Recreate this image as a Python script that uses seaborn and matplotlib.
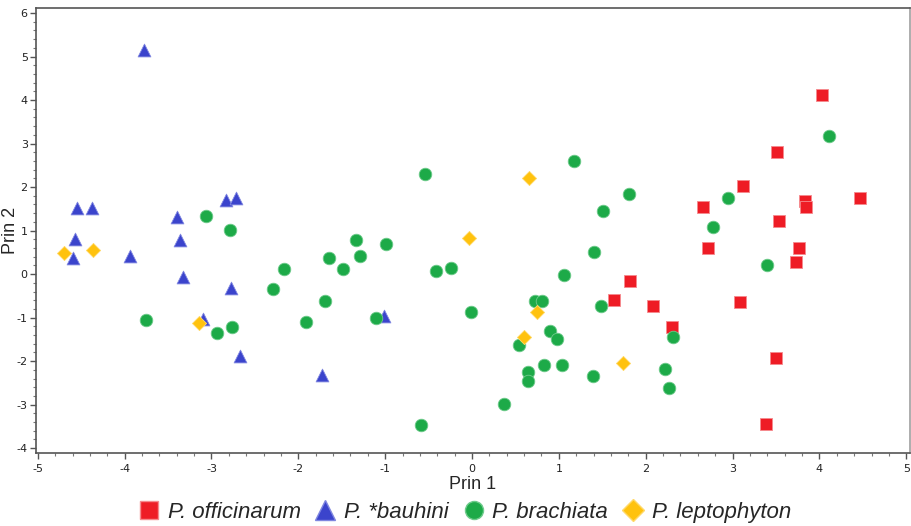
import numpy as np
import pandas as pd
import matplotlib.pyplot as plt
import seaborn as sns
from matplotlib.ticker import MultipleLocator
from matplotlib.lines import Line2D

# Principal component scores
officinarum_x = [4.03, 3.51, 3.12, 2.66, 3.83, 3.85, 4.47, 3.54, 2.72, 3.77,
                 3.73, 1.82, 1.63, 2.08, 3.09, 2.30, 3.50, 3.38]
officinarum_y = [4.12, 2.80, 2.03, 1.55, 1.67, 1.54, 1.74, 1.22, 0.61, 0.60,
                 0.28, -0.15, -0.60, -0.74, -0.63, -1.21, -1.93, -3.44]

bauhini_x = [-3.78, -4.55, -4.37, -4.57, -3.40, -3.36, -2.83, -2.72, -4.59, -3.94,
             -3.33, -2.78, -3.10, -2.67, -1.73, -1.01]
bauhini_y = [5.15, 1.51, 1.53, 0.80, 1.31, 0.78, 1.71, 1.76, 0.36, 0.42,
             -0.06, -0.33, -1.02, -1.88, -2.32, -0.96]

brachiata_x = [-3.06, -2.79, -0.54, -1.33, -0.99, -1.65, -1.29, -3.75, -2.94, -2.76,
               -2.29, -2.17, -1.69, -1.49, -1.91, -1.10, -0.59, -0.41, -0.24, 1.17,
               1.81, 1.51, 2.95, 2.78, 4.11, 1.40, 3.40, 1.06, -0.01, 0.73,
               0.81, 1.49, 0.90, 0.98, 0.54, 0.64, 0.65, 0.83, 1.04, 1.39,
               0.37, 2.22, 2.27, 2.31]
brachiata_y = [1.34, 1.01, 2.29, 0.78, 0.70, 0.38, 0.41, -1.06, -1.36, -1.22,
               -0.34, 0.11, -0.61, 0.11, -1.10, -1.00, -3.46, 0.08, 0.15, 2.61,
               1.83, 1.44, 1.74, 1.09, 3.17, 0.51, 0.22, -0.03, -0.86, -0.61,
               -0.61, -0.74, -1.31, -1.50, -1.62, -2.26, -2.45, -2.09, -2.09, -2.35,
               -2.98, -2.17, -2.61, -1.44]

leptophyton_x = [-4.70, -4.36, -3.14, 0.66, -0.04, 0.75, 0.60, 1.74]
leptophyton_y = [0.49, 0.55, -1.13, 2.20, 0.84, -0.88, -1.45, -2.04]

species = ["P. officinarum", "P. *bauhini", "P. brachiata", "P. leptophyton"]
colors = ["#EE1C25", "#3B44CC", "#1DAA48", "#FFC20E"]
edges = ["#F58A8E", "#7F86E0", "#6FCB8C", "#FFD96A"]
markers = ["s", "^", "o", "D"]
sizes = [72, 85, 82, 52]

df = pd.concat([
    pd.DataFrame({"Prin 1": officinarum_x, "Prin 2": officinarum_y, "species": species[0]}),
    pd.DataFrame({"Prin 1": bauhini_x, "Prin 2": bauhini_y, "species": species[1]}),
    pd.DataFrame({"Prin 1": brachiata_x, "Prin 2": brachiata_y, "species": species[2]}),
    pd.DataFrame({"Prin 1": leptophyton_x, "Prin 2": leptophyton_y, "species": species[3]}),
], ignore_index=True)

sns.set_style("ticks")
plt.rcParams["font.family"] = ["Liberation Sans", "DejaVu Sans"]
plt.rcParams["axes.unicode_minus"] = False

fig = plt.figure(figsize=(9.12, 5.26), dpi=100)
ax = fig.add_axes([0.0395, 0.1388, 0.958, 0.846])

for sp, c, ec, m, s in zip(species, colors, edges, markers, sizes):
    sns.scatterplot(data=df[df["species"] == sp], x="Prin 1", y="Prin 2",
                    color=c, marker=m, s=s, edgecolor=ec, linewidth=0.6,
                    ax=ax, legend=False, zorder=3)

ax.set_xlim(-5.02, 5.04)
ax.set_ylim(-4.11, 6.115)
ax.xaxis.set_major_locator(MultipleLocator(1))
ax.xaxis.set_minor_locator(MultipleLocator(0.2))
ax.yaxis.set_major_locator(MultipleLocator(1))
ax.yaxis.set_minor_locator(MultipleLocator(0.2))
ax.tick_params(which="major", length=4, width=1, color="#555555",
               labelsize=8, labelcolor="#222222", pad=2,
               labelfontfamily="DejaVu Sans")
ax.tick_params(axis="x", which="major", pad=4)
ax.tick_params(which="minor", length=2.5, width=0.8, color="#777777")

ax.set_xlabel("Prin 1", fontsize=13)
ax.set_ylabel("Prin 2", fontsize=13)
ax.xaxis.set_label_coords(0.5, -0.052)
ax.yaxis.set_label_coords(-0.019, 0.5)

for side in ["left", "bottom", "top"]:
    ax.spines[side].set_color("#555555")
    ax.spines[side].set_linewidth(1.2)
ax.spines["right"].set_color("#A0A0A0")
ax.spines["right"].set_linewidth(1.2)

handles = [Line2D([], [], linestyle="none", marker=m, color=c, markeredgecolor=ec,
                  markersize=ms)
           for c, ec, m, ms in zip(colors, edges, markers, [13, 14, 13, 11])]
leg = fig.legend(handles, species, loc="lower center", ncol=4,
                 bbox_to_anchor=(0.508, -0.032), frameon=False,
                 prop={"size": 16, "style": "italic"},
                 handletextpad=0.25, columnspacing=0.5, handlelength=1.2)

fig.savefig("out.png", dpi=100)
